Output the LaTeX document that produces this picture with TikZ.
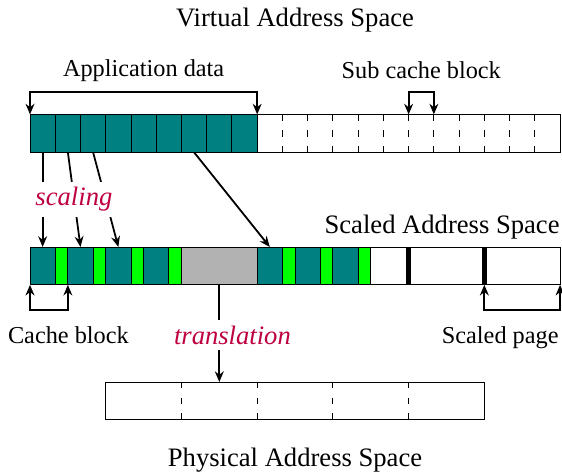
\documentclass[tikz,border=0pt]{standalone}
\usepackage{fontspec}
\setmainfont{Liberation Serif}
\usetikzlibrary{arrows.meta}

\begin{document}
\begin{tikzpicture}[x=0.4cm, y=0.4cm,
  font=\fontsize{10.95}{13.6}\selectfont,
  blk/.style={draw=black, line width=0.4pt, inner sep=0pt, outer sep=0pt,
              minimum height=0.6cm, anchor=south west},
  data/.style={blk, fill=teal, minimum width=0.4cm},
  pad/.style={blk, fill=green, minimum width=0.2cm},
  free/.style={blk, fill=white},
  hole/.style={blk, fill=black!30, minimum width=1.2cm},
  sep/.style={line width=0.4pt, dash pattern=on 2.9pt off 4.2pt},
  pagesep/.style={line width=2pt},
  tip/.tip={Stealth[length=4.8pt, width=4pt]},
  link/.style={line width=0.8pt, -tip},
  bracket/.style={line width=0.8pt, tip-tip},
  title/.style={font=\fontsize{12}{14.4}\selectfont, anchor=base},
  label/.style={anchor=base},
  op/.style={font=\fontsize{12}{14.4}\selectfont\itshape, text=purple,
             fill=white, inner sep=2.5pt},
]
\useasboundingbox (-1.189,-12.667) rectangle (21.077,6.034);

% virtual address space: application data followed by free sub cache blocks
\foreach \i in {0,...,8} \node[data] (v\i) at (\i,0) {};
\node[free, minimum width=4.8cm] (vfree) at (9,0) {};
\foreach \i in {10,...,20} \draw[sep] (\i,0) -- (\i,1.5);

% scaled address space: cache blocks padded, a translated hole, scaled pages
\node[data] (s0) at (0,-5.25) {};
\node[pad]  (p0) at (1,-5.25) {};
\node[data] (s1) at (1.5,-5.25) {};
\node[pad]  (p1) at (2.5,-5.25) {};
\node[data] (s2) at (3,-5.25) {};
\node[pad]  (p2) at (4,-5.25) {};
\node[data] (s3) at (4.5,-5.25) {};
\node[pad]  (p3) at (5.5,-5.25) {};
\node[hole] (gap) at (6,-5.25) {};
\node[data] (s4) at (9,-5.25) {};
\node[pad]  (p4) at (10,-5.25) {};
\node[data] (s5) at (10.5,-5.25) {};
\node[pad]  (p5) at (11.5,-5.25) {};
\node[data] (s6) at (12,-5.25) {};
\node[pad]  (p6) at (13,-5.25) {};
\node[free, minimum width=3cm] (sfree) at (13.5,-5.25) {};
\draw[pagesep] (15,-5.25) -- (15,-3.75);
\draw[pagesep] (18,-5.25) -- (18,-3.75);

% physical address space
\node[free, minimum width=6cm] (phys) at (3,-10.6) {};
\foreach \i in {6,9,12,15} \draw[sep] (\i,-10.6) -- (\i,-9.1);

% scaling and translation
\draw[link] (v0.south) -- (s0.north);
\draw[link] (v1.south) -- (s1.north);
\draw[link] (v2.south) -- (s2.north);
\node[op] (scl) at (1.74,-1.87) {scaling};
\draw[link] (v6.south) -- (s4.north);
\draw[link] (gap.south) -- (gap.south |- phys.north);
\node[op] (trn) at (8.02,-7.24) {translation};

% brackets
\coordinate (c15) at (15,1.5);
\coordinate (c16) at (16,1.5);
\coordinate (c18) at (18,-5.25);
\draw[bracket] (v0.north west) -- ++(0,0.9) -| (v8.north east);
\draw[bracket] (c15) -- ++(0,0.9) -| (c16);
\draw[bracket] (s0.south west) -- ++(0,-1) -| (p0.south east);
\draw[bracket] (c18) -- ++(0,-1) -| (sfree.south east);

% labels
\node[title] (vas) at (10.5,5.0) {Virtual Address Space};
\node[label] (app) at (4.5,3.02) {Application data};
\node[label] (sub) at (15.5,2.94) {Sub cache block};
\node[title, anchor=base east, inner sep=0pt] (sas) at (21,-3.2) {Scaled Address Space};
\node[label] (cb) at (1.52,-7.56) {Cache block};
\node[label] (sp) at (18.63,-7.56) {Scaled page};
\node[title] (pas) at (10.5,-12.43) {Physical Address Space};
\end{tikzpicture}
\end{document}
